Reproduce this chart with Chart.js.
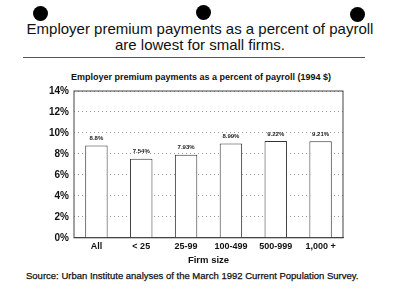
<!DOCTYPE html>
<html>
<head>
<meta charset="utf-8">
<script src="https://cdn.jsdelivr.net/npm/chart.js@4"></script>
<style>
  body { margin: 0; width: 400px; height: 305px; background: #fff; position: relative; overflow: hidden; font-family: "Liberation Sans", Arial, sans-serif; color: #111; }
  .hole { position: absolute; width: 15px; height: 15px; border-radius: 50%; background: #000; }
  #head { position: absolute; left: 0; width: 400px; top: 21px; text-align: center; font-size: 15px; line-height: 16px; }
  #rule { position: absolute; left: 23px; width: 342px; top: 57px; border-top: 1.5px solid #555; }
  #sub { position: absolute; left: 71px; top: 72px; font-size: 9px; font-weight: bold; color: #111; }
  #wrap { position: absolute; left: 0; top: 80px; width: 400px; height: 186px; }
  #src { position: absolute; left: 26px; top: 270px; font-size: 9.5px; color: #111; -webkit-text-stroke: 0.25px #111; }
</style>
</head>
<body>
<div class="hole" style="left:33px;top:6px"></div>
<div class="hole" style="left:196px;top:5px"></div>
<div class="hole" style="left:350px;top:7px"></div>
<div id="head">Employer premium payments as a percent of payroll<br>are lowest for small firms.</div>
<div id="rule"></div>
<div id="sub">Employer premium payments as a percent of payroll (1994 $)</div>
<div id="wrap"><canvas id="chart"></canvas></div>
<div id="src">Source: Urban Institute analyses of the March 1992 Current Population Survey.</div>
<script>
// firm size categories and premium share of payroll (%)
const firmSizes = ['All', '< 25', '25-99', '100-499', '500-999', '1,000 +'];
const premiumPct = [8.8, 7.54, 7.93, 8.99, 9.22, 9.21];
const barLabels = ['8.8%', '7.54%', '7.93%', '8.99%', '9.22%', '9.21%'];

const valueLabels = {
    id: 'valueLabels',
    afterDatasetsDraw(chart) {
        const ctx = chart.ctx;
        const meta = chart.getDatasetMeta(0);
        ctx.save();
        ctx.font = 'bold 6px "Liberation Sans", Arial, sans-serif';
        ctx.fillStyle = '#222';
        ctx.textAlign = 'center';
        ctx.textBaseline = 'bottom';
        meta.data.forEach((bar, i) => {
            ctx.fillText(barLabels[i], bar.x, bar.y - 4);
        });
        ctx.restore();
    }
};

// plot frame on all four sides
const frame = {
    id: 'frame',
    beforeDatasetsDraw(chart) {
        const a = chart.chartArea;
        const ctx = chart.ctx;
        ctx.save();
        ctx.strokeStyle = '#444';
        ctx.lineWidth = 1;
        ctx.strokeRect(a.left, a.top, a.right - a.left, a.bottom - a.top);
        ctx.restore();
    }
};

new Chart(document.getElementById('chart'), {
    type: 'bar',
    data: {
        labels: firmSizes,
        datasets: [{
            data: premiumPct,
            backgroundColor: '#fff',
            borderColor: '#333',
            borderWidth: 1,
            borderSkipped: 'bottom',
            barPercentage: 0.5,
            categoryPercentage: 1
        }]
    },
    options: {
        responsive: true,
        maintainAspectRatio: false,
        animation: false,
        layout: { padding: { left: 0, right: 57, top: 8, bottom: 0 } },
        plugins: {
            legend: { display: false },
            tooltip: { enabled: false }
        },
        scales: {
            x: {
                grid: { display: false, drawTicks: false, tickLength: 0 },
                border: { color: '#444' },
                ticks: { color: '#111', font: { family: '"Liberation Sans", Arial, sans-serif', size: 9, weight: 'bold' }, padding: 3 },
                title: { display: true, text: 'Firm size', color: '#111', font: { family: '"Liberation Sans", Arial, sans-serif', size: 9.5, weight: 'bold' }, padding: { top: 0, bottom: 0 } }
            },
            y: {
                min: 0,
                max: 14,
                afterFit(scale) { scale.width = 74; },
                grid: { color: '#999', drawTicks: false, lineWidth: 1 },
                border: { display: false, dash: [1, 3] },
                ticks: {
                    stepSize: 2,
                    color: '#111',
                    padding: 5,
                    font: { family: '"Liberation Sans", Arial, sans-serif', size: 10, weight: 'bold' },
                    callback: v => v + '%'
                }
            }
        }
    },
    plugins: [frame, valueLabels]
});
</script>
</body>
</html>
